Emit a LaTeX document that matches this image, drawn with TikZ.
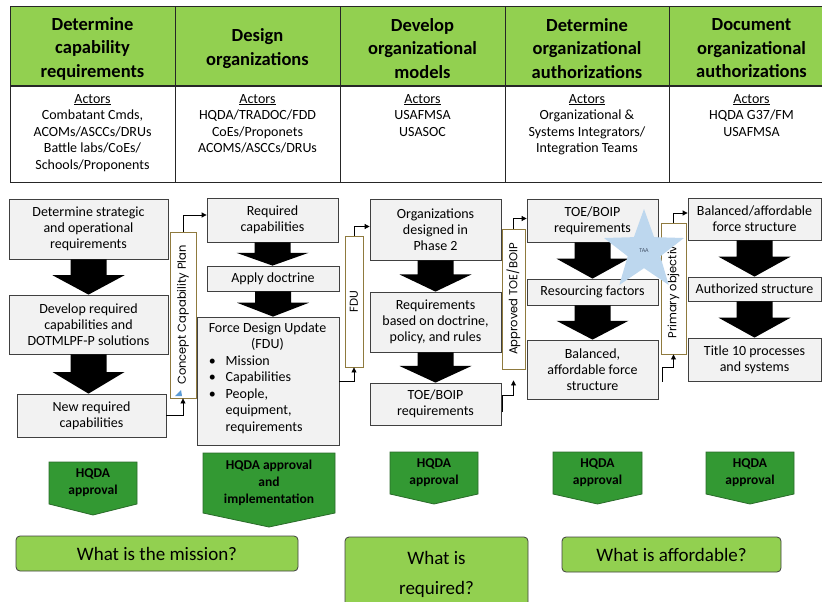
\documentclass[tikz,border=0pt]{standalone}
\usepackage{fontspec}
\setmainfont{Carlito}
\newfontfamily\gothicfont{Poppins}
\usetikzlibrary{arrows.meta,shapes.geometric,calc}

\definecolor{hdrgreen}{HTML}{92D050}
\definecolor{gatefill}{HTML}{339933}
\definecolor{gateline}{HTML}{2A6B2A}
\definecolor{boxfill}{HTML}{F2F2F2}
\definecolor{boxline}{HTML}{404040}
\definecolor{planline}{HTML}{8F7A3E}
\definecolor{starblue}{HTML}{BDD7EE}
\definecolor{tagblue}{HTML}{5B9BD5}
\definecolor{taatext}{HTML}{44546A}

% thick black down arrow from one step box to the next
\newcommand\blockarrow[2]{%
  \fill[black] let \p1=(#1.south), \p2=(#2.north),
    \p3=($(#2.north)!0.55!(#1.south)$) in
    (\x1-18pt,\y1) -- (\x1+18pt,\y1) -- (\x1+18pt,\y3) -- (\x1+36pt,\y3)
    -- (\x1,\y2) -- (\x1-36pt,\y3) -- (\x1-18pt,\y3) -- cycle;}

% approval gate: name, left, right, top, shoulder, tip, text
\newcommand\gate[7]{%
  \draw[gateshape] (#2,#4) -- (#3,#4) -- (#3,#5) -- ({(#2+#3)/2},#6)
    -- (#2,#5) -- cycle;
  \node[gatetext] (#1) at ({(#2+#3)/2},{(#4+#5)/2}) {#7};}

\tikzset{
  tablerule/.style={draw=black!85, line width=1pt},
  hdr/.style={align=center, inner sep=0pt,
    font=\bfseries\fontsize{18.5}{23.5}\selectfont},
  actors/.style={anchor=north, align=center, inner sep=0pt,
    font=\fontsize{14}{16.5}\selectfont},
  stepbox/.style={draw=boxline, fill=boxfill, line width=0.8pt,
    align=center, inner sep=1pt, font=\fontsize{14}{16}\selectfont},
  plan/.style={draw=planline, fill=white, line width=0.9pt, inner sep=0pt},
  plantext/.style={rotate=90, inner sep=0pt,
    font=\gothicfont\fontsize{11.5}{13}\selectfont},
  conn/.style={draw=black, line width=0.8pt,
    -{Triangle[length=5pt,width=5pt]}},
  gateshape/.style={fill=gatefill, draw=gateline, line width=0.8pt},
  gatetext/.style={align=center, inner sep=0pt,
    font=\bfseries\fontsize{13.5}{17}\selectfont},
  question/.style={draw=boxline, fill=hdrgreen, line width=0.8pt,
    rounded corners=4pt, align=center, inner sep=0pt,
    font=\fontsize{19}{30}\selectfont},
}

\begin{document}
\begin{tikzpicture}[x=1pt,y=-1pt]
\useasboundingbox (0,0) rectangle (822,602);

% ---- phase table ----
\fill[hdrgreen] (10,7) rectangle (834,86);
\fill[white] (10,86) rectangle (834,182);
\draw[tablerule] (10,7) rectangle (834,182);
\draw[tablerule] (10,86) -- (834,86);
\foreach \xx in {175,340,505,669} \draw[tablerule] (\xx,7) -- (\xx,182);

\node[hdr] (h1) at (92.5,48.5) {Determine\\capability\\requirements};
\node[hdr] (h2) at (257.5,48.5) {Design\\organizations};
\node[hdr] (h3) at (422.5,48.5) {Develop\\organizational\\models};
\node[hdr] (h4) at (587,48.5) {Determine\\organizational\\authorizations};
\node[hdr] (h5) at (751.5,48.5) {Document\\organizational\\authorizations};

\node[actors] (r1) at (92.5,94) {\underline{Actors}\\Combatant Cmds,\\ACOMs/ASCCs/DRUs\\Battle labs/CoEs/\\Schools/Proponents};
\node[actors] (r2) at (257.5,94) {\underline{Actors}\\HQDA/TRADOC/FDD\\CoEs/Proponets\\ACOMS/ASCCs/DRUs};
\node[actors] (r3) at (422.5,94) {\underline{Actors}\\USAFMSA\\USASOC};
\node[actors] (r4) at (587,94) {\underline{Actors}\\Organizational \&\\Systems Integrators/\\Integration Teams};
\node[actors] (r5) at (751.5,94) {\underline{Actors}\\HQDA G37/FM\\USAFMSA};

% ---- phase 1 steps ----
\node[stepbox, minimum width=159pt, minimum height=60pt] (a1) at (88.5,229) {Determine strategic\\and operational\\requirements};
\node[stepbox, minimum width=159pt, minimum height=59pt] (a2) at (88.5,324.5) {Develop required\\capabilities and\\DOTMLPF-P solutions};
\node[stepbox, minimum width=149pt, minimum height=43pt] (a3) at (91.5,415.5) {New required\\capabilities};
\node[plan, minimum width=26pt, minimum height=166pt] (v1) at (183,315) {};
\node[plantext] (v1t) at (v1.center) {Concept Capability Plan};
\fill[tagblue] (175,396) -- (182,396) -- (181,390) -- cycle;

% ---- phase 2 steps ----
\node[stepbox, minimum width=131pt, minimum height=44pt] (b1) at (272.5,220) {Required\\capabilities};
\node[stepbox, minimum width=132pt, minimum height=25pt] (b2) at (273,278.5) {Apply doctrine};
\node[stepbox, minimum width=142pt, minimum height=128pt] (b3) at (268,381) {};
\node[anchor=north, inner sep=0pt, font=\fontsize{14}{16.5}\selectfont] (b3t) at (267.5,320.5)
  {\begin{tabular}{@{}l@{\hspace{10pt}}l@{}}
    \multicolumn{2}{@{}c@{}}{Force Design Update}\\
    \multicolumn{2}{@{}c@{}}{(FDU)}\\
    \textbullet & Mission\\
    \textbullet & Capabilities\\
    \textbullet & People,\\
    & equipment,\\
    & requirements
  \end{tabular}};
\node[plan, minimum width=18pt, minimum height=131pt] (v2) at (354,301.5) {};
\node[plantext] (v2t) at (v2.center) {FDU};

% ---- phase 3 steps ----
\node[stepbox, minimum width=131pt, minimum height=61pt] (c1) at (435.5,229.5) {Organizations\\designed in\\Phase 2};
\node[stepbox, minimum width=131pt, minimum height=60pt] (c2) at (435.5,322) {Requirements\\based on doctrine,\\policy, and rules};
\node[stepbox, minimum width=131pt, minimum height=42pt] (c3) at (435.5,404) {TOE/BOIP\\requirements};
\node[plan, minimum width=23pt, minimum height=140pt] (v3) at (513.5,299) {};
\node[plantext] (v3t) at (v3.center) {Approved TOE/BOIP};

% ---- phase 4 steps ----
\node[stepbox, minimum width=131pt, minimum height=43pt] (d1) at (592.5,220.5) {TOE/BOIP\\requirements};
\node[stepbox, minimum width=131pt, minimum height=26pt] (d2) at (592.5,292) {Resourcing factors};
\node[stepbox, minimum width=131pt, minimum height=59pt] (d3) at (592.5,369.5) {Balanced,\\affordable force\\structure};
\node[plan, minimum width=25pt, minimum height=131pt] (v4) at (673.5,288.5) {};
\node[plantext] (v4t) at (v4.center) {Primary objective};

% ---- phase 5 steps ----
\node[stepbox, minimum width=133pt, minimum height=42pt] (e1) at (754.5,219) {Balanced/affordable\\force structure};
\node[stepbox, minimum width=133pt, minimum height=24pt] (e2) at (754.5,289) {Authorized structure};
\node[stepbox, minimum width=133pt, minimum height=43pt] (e3) at (754.5,359.5) {Title 10 processes\\and systems};

% ---- flow within each phase ----
\blockarrow{a1}{a2}
\blockarrow{a2}{a3}
\blockarrow{b1}{b2}
\blockarrow{b2}{b3}
\blockarrow{c1}{c2}
\blockarrow{c2}{c3}
\blockarrow{d1}{d2}
\blockarrow{d2}{d3}
\blockarrow{e1}{e2}
\blockarrow{e2}{e3}

% ---- hand-offs between phases ----
\draw[conn] (a3.east) -| (v1.south);
\draw[conn] (v1.north) |- ([yshift=5pt]b1.west);
\draw[conn] (b3.east) -| (v2.south);
\draw[conn] (v2.north) |- ([yshift=3pt]c1.west);
\draw[conn] ([xshift=1pt,yshift=-8pt]c3.east) -- ++(0,-17) -| ([yshift=-11pt]v3.south);
\draw[conn] (v3.north) |- ([yshift=2pt]d1.west);
\draw[conn] ([xshift=4pt,yshift=-12pt]d3.east) -- ++(0,-14) -| (v4.south);
\draw[conn] (v4.north) |- ([yshift=6pt]e1.west);

% ---- analysis marker ----
\node[star, star points=5, star point ratio=2.45, minimum size=84pt, inner sep=0pt,
  fill=starblue, text=taatext, font=\fontsize{6}{7}\selectfont] (taa) at (644,251) {TAA};

% ---- approval gates ----
\gate{g1}{49}{137}{462}{504}{515}{HQDA\\approval}
\gate{g2}{203}{335}{453}{513}{527}{HQDA approval\\and\\implementation}
\gate{g3}{390}{478}{452}{494}{504}{HQDA\\approval}
\gate{g4}{553}{642}{452}{494}{504}{HQDA\\approval}
\gate{g5}{706}{794}{452}{494}{504}{HQDA\\approval}

% ---- guiding questions ----
\node[question, minimum width=282pt, minimum height=35pt] (q1) at (157,553.5) {What is the mission?};
\node[question, minimum width=183pt, minimum height=75pt] (q2) at (436.5,574.5) {What is\\required?};
\node[question, minimum width=219pt, minimum height=35pt] (q3) at (671.5,554.5) {What is affordable?};

\end{tikzpicture}
\end{document}
